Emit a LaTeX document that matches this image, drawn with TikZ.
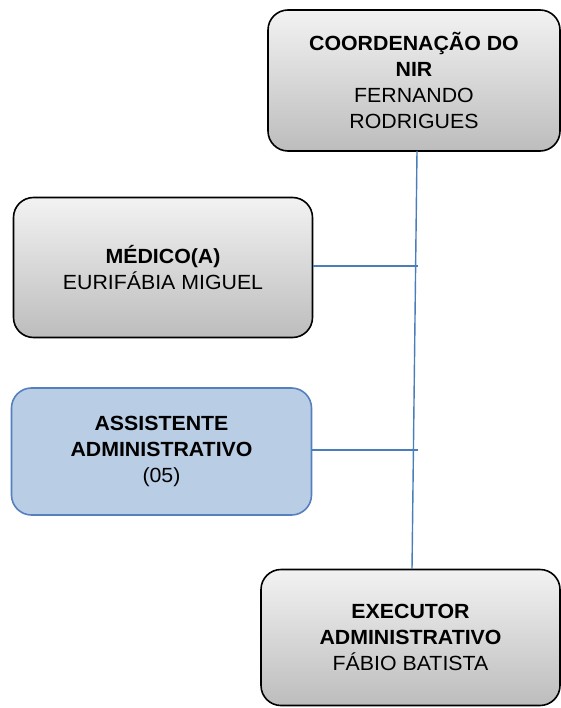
\documentclass[tikz,border=0pt]{standalone}
\usepackage{fontspec}
\setmainfont{Liberation Sans}[FakeStretch=1.04]
\definecolor{lineblue}{HTML}{4A7EBB}
\definecolor{boxblue}{HTML}{B9CDE5}
\definecolor{borderblue}{HTML}{5580BD}
\begin{document}
\begin{tikzpicture}[x=1pt,y=-1pt,
  box/.style={rounded corners=20pt, align=center, font=\fontsize{20.5}{26}\selectfont, inner sep=2pt},
  graybox/.style={box, draw=black, line width=1.6pt, top color=black!5, bottom color=black!26},
  bluebox/.style={box, draw=borderblue, line width=1.6pt, fill=boxblue},
  conn/.style={draw=lineblue, line width=1.4pt}]
\useasboundingbox (0,0) rectangle (561,708);
\node[graybox, minimum width=292pt, minimum height=141pt] (nir) at (414,80.5)
  {\textbf{COORDENAÇÃO DO}\\\textbf{NIR}\\FERNANDO\\RODRIGUES};
\node[graybox, minimum width=299pt, minimum height=140pt] (med) at (163,267.5)
  {\textbf{MÉDICO(A)}\\EURIFÁBIA MIGUEL};
\node[bluebox, minimum width=300pt, minimum height=127pt] (ass) at (161.5,451.5)
  {\textbf{ASSISTENTE}\\\textbf{ADMINISTRATIVO}\\(05)};
\node[graybox, minimum width=299pt, minimum height=136pt] (exe) at (410.5,637.5)
  {\textbf{EXECUTOR}\\\textbf{ADMINISTRATIVO}\\FÁBIO BATISTA};
\coordinate (top) at (417,151);
\coordinate (bot) at (412,569);
\coordinate (j1) at (418,266);
\coordinate (j2) at (418,450);
\draw[conn] (top) -- (bot);
\draw[conn] (med.east |- j1) -- (j1);
\draw[conn] (ass.east |- j2) -- (j2);
\end{tikzpicture}
\end{document}
